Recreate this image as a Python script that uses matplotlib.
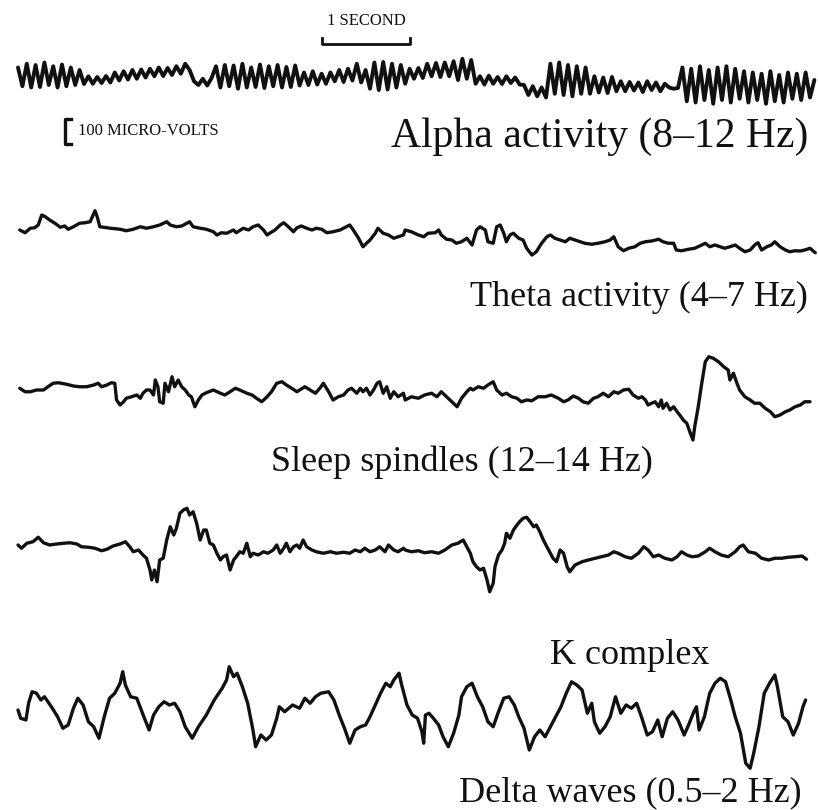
#!/usr/bin/env python3
"""
EEG rhythms figure: alpha, theta, sleep spindles, K complex and delta traces
"""

import matplotlib
matplotlib.use("Agg")
import matplotlib.pyplot as plt

plt.rcParams.update({
    "font.family": "Liberation Serif",
    "figure.facecolor": "white",
})

# ---- data (time in s, amplitude in microvolts) ----

# alpha is sampled every 0.05 s (peaks and troughs of the ~10 Hz rhythm)
alpha_step = 0.05
alpha_uv = [
    30, -45, 45, -50, 40, -48, 50, -40, 35, -50, 42, -45, 30, -40, 20,
    -36, -5, -35, -8, -32, -4, -30,
    10, -22, 15, -18, 20, -15, 22, -10, 25,
    -5, 30, -4, 28, 0, 35, 5,
    45, 20, -25,
    -40, -15, -42, -12,
    35, -50, 40, -45, 38, -55, 45, -50, 30, -48, 42, -52, 35, -45, 40, -50, 32, -48, 38, -42,
    10, -40, 15, -38, 5, -35, 10,
    -25, 20, -28, 25, -22, 45, -30, 20,
    -55, 50, -60, 52, -58, 45, -50, 40, -35,
    25, -15, 28, -12,
    45, -5, 48, -8, 50, -5, 55,
    -20, 65, -15, 60,
    -35, -5, -38, -3, -35, -8, -36, -5, -32, -10, -38,
    -40, -80, -45, -85, -50, -90,
    45, -75, 50, -80, 40, -85, 35, -75, 30,
    -75, -5, -70, -10, -72, -8, -65,
    -25, -65, -28, -62, -30, -68, -25, -60, -30, -65, -35,
    -50, -55, -52,
    30, -105, 25, -110, 35, -100, 20, -115, 30, -100, 35, -110, 25, -95,
    15, -110, 10, -100, 5, -115, 15, -105, 0, -110, 10, -95, 5, -100, 10, -90, -20,
]

theta = [
    (0.02, 0), (0.08, -11), (0.14, 7), (0.19, 9), (0.23, 20), (0.27, 60), (0.31, 53),
    (0.36, 40), (0.42, 27), (0.48, 11), (0.53, 16), (0.57, 3), (0.63, 13), (0.70, 27),
    (0.76, 29), (0.82, 33), (0.875, 77), (0.90, 53), (0.93, 13), (1.05, 7), (1.16, 3),
    (1.23, -3), (1.31, 3), (1.39, 13), (1.46, 7), (1.54, 13), (1.61, 20), (1.69, 33),
    (1.73, 20), (1.80, 13), (1.86, 16), (1.92, 27), (1.95, 33), (1.99, 13), (2.07, 7),
    (2.14, 3), (2.22, -7), (2.26, -20), (2.31, -11), (2.37, -13), (2.45, 0), (2.48, -11),
    (2.56, 7), (2.62, 0), (2.67, 13), (2.73, 20), (2.79, 0), (2.83, -20), (2.86, -13),
    (2.92, 0), (2.98, 20), (3.02, 29), (3.05, 20), (3.09, 7), (3.13, -7), (3.17, 9),
    (3.22, 16), (3.28, 7), (3.34, 0), (3.39, 7), (3.45, 3), (3.51, -11), (3.58, -7),
    (3.66, 0), (3.72, 11), (3.77, 20), (3.81, 0), (3.87, -33), (3.92, -67), (3.96, -53),
    (4.00, -40), (4.06, -13), (4.09, 7), (4.15, -13), (4.21, -20), (4.27, -33),
    (4.32, -27), (4.38, -20), (4.40, 0), (4.47, -7), (4.55, -20), (4.61, -27),
    (4.66, -13), (4.74, -11), (4.78, 0), (4.81, -20), (4.87, -37), (4.93, -40),
    (4.98, -53), (5.04, -47), (5.10, -33), (5.16, -60), (5.21, 0), (5.25, 13),
    (5.31, 0), (5.34, -47), (5.40, -53), (5.44, 13), (5.48, 20), (5.52, -13),
    (5.55, -47), (5.59, -20), (5.63, -13), (5.69, -33), (5.74, -40), (5.78, -73),
    (5.84, -100), (5.89, -87), (5.95, -53), (6.01, -27), (6.05, -20), (6.10, -33),
    (6.16, -40), (6.22, -47), (6.27, -33), (6.33, -40), (6.39, -47), (6.44, -53),
    (6.52, -57), (6.59, -53), (6.67, -47), (6.73, -40), (6.77, -27), (6.82, -67),
    (6.88, -83), (6.94, -73), (7.01, -67), (7.07, -53), (7.13, -47), (7.20, -44),
    (7.28, -37), (7.33, -47), (7.39, -53), (7.45, -53), (7.48, -80), (7.54, -83),
    (7.62, -77), (7.69, -73), (7.77, -60), (7.81, -53), (7.86, -67), (7.92, -60),
    (7.98, -67), (8.03, -73), (8.09, -67), (8.15, -60), (8.20, -73), (8.26, -87),
    (8.32, -80), (8.38, -57), (8.41, -51), (8.45, -80), (8.51, -67), (8.56, -60),
    (8.60, -47), (8.66, -67), (8.72, -80), (8.77, -87), (8.83, -83), (8.89, -84),
    (8.94, -80), (9.00, -73), (9.06, -91),
]

spindles = [
    (0.02, 7), (0.08, -7), (0.14, -7), (0.21, 0), (0.29, 0), (0.34, 13), (0.40, 27),
    (0.46, 29), (0.55, 23), (0.63, 16), (0.70, 13), (0.78, 13), (0.86, 20), (0.91, 27),
    (0.95, 13), (1.01, 20), (1.06, 29), (1.10, 27), (1.12, -40), (1.16, -60),
    (1.20, -47), (1.23, -33), (1.29, -27), (1.35, -20), (1.39, -33), (1.42, -13),
    (1.46, 0), (1.50, 0), (1.54, -20), (1.56, 40), (1.59, 13), (1.61, -47),
    (1.65, -53), (1.67, 27), (1.71, -7), (1.75, 53), (1.78, 13), (1.82, 40),
    (1.86, 13), (1.90, 0), (1.94, -20), (1.97, -27), (2.01, -67), (2.05, -40),
    (2.09, -20), (2.14, -11), (2.22, 0), (2.30, -13), (2.35, -20), (2.41, -7),
    (2.47, 7), (2.52, 0), (2.60, -13), (2.66, -20), (2.71, -33), (2.77, -47),
    (2.83, -27), (2.88, -7), (2.94, 27), (3.00, 33), (3.05, 20), (3.11, 7),
    (3.17, -7), (3.20, 0), (3.26, 13), (3.32, 0), (3.38, -13), (3.43, 7), (3.47, 27),
    (3.53, -7), (3.58, -40), (3.64, -27), (3.70, -20), (3.75, 0), (3.79, 7),
    (3.85, -13), (3.89, 7), (3.92, -7), (3.96, 7), (4.00, -20), (4.04, 0), (4.08, 27),
    (4.11, 33), (4.15, -13), (4.19, 13), (4.23, -33), (4.27, -7), (4.32, -27),
    (4.38, -13), (4.40, -40), (4.47, -27), (4.55, -33), (4.62, -20), (4.70, -13),
    (4.76, -27), (4.81, -7), (4.87, -27), (4.93, -47), (4.99, -67), (5.04, -33),
    (5.10, -7), (5.14, 7), (5.17, 0), (5.23, 13), (5.29, 7), (5.34, 20), (5.40, 33),
    (5.44, 0), (5.50, -20), (5.55, -13), (5.61, -27), (5.67, -33), (5.72, -47),
    (5.78, -40), (5.84, -43), (5.91, -27), (5.99, -27), (6.06, -20), (6.14, -33),
    (6.20, -47), (6.25, -40), (6.31, -24), (6.37, -33), (6.42, -47), (6.48, -53),
    (6.54, -33), (6.59, -27), (6.65, -13), (6.71, -27), (6.77, -7), (6.82, -13),
    (6.88, 0), (6.94, 3), (6.99, -20), (7.05, -33), (7.09, -27), (7.13, -40),
    (7.16, -60), (7.20, -53), (7.24, -47), (7.28, -67), (7.31, -40), (7.33, -73),
    (7.37, -53), (7.41, -80), (7.45, -67), (7.49, -87), (7.52, -100), (7.56, -120),
    (7.60, -133), (7.64, -173), (7.67, -200), (7.69, -147), (7.73, -67), (7.77, 27),
    (7.81, 113), (7.85, 133), (7.90, 127), (7.96, 113), (8.02, 93), (8.07, 80),
    (8.09, 40), (8.13, 67), (8.17, 27), (8.20, 0), (8.26, -27), (8.32, -40),
    (8.37, -53), (8.43, -53), (8.49, -73), (8.55, -87), (8.60, -107), (8.66, -100),
    (8.72, -87), (8.77, -80), (8.83, -67), (8.89, -60), (8.94, -47), (9.00, -47),
]

k_complex = [
    (0.00, 20), (0.04, 7), (0.10, 27), (0.17, 33), (0.23, 51), (0.29, 29), (0.36, 20),
    (0.44, 24), (0.52, 27), (0.59, 29), (0.67, 24), (0.72, 13), (0.80, 11), (0.875, 7),
    (0.95, -3), (1.01, 3), (1.08, 16), (1.16, 24), (1.22, 33), (1.27, 13), (1.31, -7),
    (1.37, 0), (1.42, -20), (1.46, -33), (1.50, -80), (1.52, -120), (1.55, -80),
    (1.58, -127), (1.61, -40), (1.65, -33), (1.69, 40), (1.73, 93), (1.77, 60),
    (1.80, 87), (1.84, 147), (1.88, 160), (1.92, 167), (1.95, 140), (1.99, 153),
    (2.03, 107), (2.07, 40), (2.11, 80), (2.14, 80), (2.18, 27), (2.22, 20),
    (2.26, -13), (2.30, -40), (2.33, -27), (2.37, -20), (2.41, -80), (2.45, -40),
    (2.48, -27), (2.52, -7), (2.56, -13), (2.60, 27), (2.64, -27), (2.67, -13),
    (2.73, -20), (2.79, -7), (2.84, -13), (2.90, 0), (2.94, 20), (2.98, -13),
    (3.02, 7), (3.05, 27), (3.09, -7), (3.13, 13), (3.17, 20), (3.20, 7), (3.24, 40),
    (3.28, 13), (3.34, 0), (3.39, -7), (3.47, -13), (3.55, -7), (3.62, -13),
    (3.70, -9), (3.77, -13), (3.83, 0), (3.89, -7), (3.94, 7), (4.00, -7), (4.06, 0),
    (4.11, 13), (4.17, -7), (4.21, 20), (4.27, 0), (4.32, -7), (4.38, 7), (4.40, 0),
    (4.47, -7), (4.55, -3), (4.62, -11), (4.70, -7), (4.78, -13), (4.85, 0),
    (4.93, 20), (5.00, 27), (5.06, 40), (5.10, 13), (5.14, -13), (5.17, -47),
    (5.21, -67), (5.25, -80), (5.29, -73), (5.33, -120), (5.36, -167), (5.40, -133),
    (5.42, -67), (5.46, -20), (5.50, 0), (5.53, 27), (5.55, 67), (5.59, 47),
    (5.63, 80), (5.67, 100), (5.70, 113), (5.74, 127), (5.78, 131), (5.82, 113),
    (5.86, 93), (5.89, 100), (5.93, 73), (5.97, 40), (6.01, 13), (6.05, -13),
    (6.08, -33), (6.12, -47), (6.16, 0), (6.20, -13), (6.24, -67), (6.27, -87),
    (6.33, -60), (6.41, -47), (6.48, -40), (6.56, -33), (6.63, -27), (6.71, -20),
    (6.77, -7), (6.82, -13), (6.90, -27), (6.97, -33), (7.05, -13), (7.11, 13),
    (7.16, 0), (7.22, -27), (7.28, -20), (7.35, -33), (7.43, -40), (7.49, -27),
    (7.54, -7), (7.60, -20), (7.66, -27), (7.73, -24), (7.81, -7), (7.86, 7),
    (7.92, -7), (7.99, -20), (8.07, -27), (8.15, -7), (8.20, 13), (8.24, 20),
    (8.30, -7), (8.38, -13), (8.45, -33), (8.53, -40), (8.60, -33), (8.68, -33),
    (8.75, -29), (8.83, -27), (8.91, -24), (8.96, -37),
]

delta = [
    (0.00, 0), (0.03, -33), (0.09, -40), (0.12, 27), (0.16, 73), (0.21, 67), (0.26, 40),
    (0.30, 53), (0.34, 33), (0.39, 7), (0.45, -27), (0.51, -73), (0.57, -60), (0.63, 7),
    (0.68, 47), (0.74, 20), (0.80, -47), (0.86, -67), (0.92, -113), (0.98, -27),
    (1.04, 47), (1.10, 67), (1.16, 107), (1.19, 153), (1.22, 100), (1.28, 53),
    (1.35, 47), (1.43, -27), (1.49, -80), (1.54, -20), (1.60, 13), (1.66, 33),
    (1.72, 20), (1.78, 27), (1.84, -7), (1.90, -67), (1.98, -113), (2.05, -67),
    (2.14, -20), (2.23, 40), (2.32, 87), (2.37, 120), (2.40, 173), (2.45, 133),
    (2.49, 147), (2.55, 93), (2.61, 27), (2.67, -80), (2.70, -147), (2.76, -100),
    (2.82, -120), (2.88, -100), (2.94, -33), (2.97, 13), (3.03, -7), (3.12, 20),
    (3.20, 7), (3.26, 47), (3.32, 27), (3.38, 53), (3.44, 67), (3.53, 73), (3.59, 40),
    (3.65, -20), (3.71, -73), (3.77, -133), (3.83, -80), (3.89, -67), (3.95, -60),
    (4.00, -27), (4.06, 20), (4.12, 67), (4.18, 107), (4.23, 93), (4.27, 120),
    (4.33, 147), (4.36, 100), (4.42, 20), (4.48, -20), (4.54, -33), (4.59, -87),
    (4.61, -133), (4.63, -20), (4.67, -13), (4.72, -33), (4.78, -60), (4.83, -107),
    (4.89, -147), (4.95, -93), (5.01, -20), (5.04, 53), (5.10, 93), (5.16, 107),
    (5.22, 53), (5.28, 13), (5.34, -47), (5.40, -67), (5.46, -7), (5.52, 47),
    (5.58, 53), (5.64, 20), (5.69, -27), (5.75, -73), (5.81, -160), (5.87, -107),
    (5.93, -80), (5.99, -107), (6.05, -67), (6.11, -27), (6.17, 13), (6.23, 67),
    (6.29, 113), (6.35, 100), (6.41, 80), (6.47, -13), (6.52, 27), (6.55, -47),
    (6.61, -93), (6.67, -67), (6.73, -27), (6.79, 53), (6.85, -13), (6.91, 20),
    (6.97, 7), (7.03, 27), (7.09, -33), (7.15, -100), (7.21, -87), (7.27, -40),
    (7.32, -107), (7.38, -33), (7.44, -7), (7.50, -40), (7.57, -100), (7.62, -60),
    (7.68, -7), (7.71, 13), (7.74, -80), (7.80, -27), (7.86, 67), (7.92, 107),
    (7.98, 127), (8.04, 113), (8.10, 40), (8.15, -27), (8.21, -93), (8.27, -213),
    (8.32, -233), (8.36, -173), (8.42, -67), (8.48, 67), (8.54, 107), (8.60, 140),
    (8.63, 93), (8.69, -27), (8.75, -47), (8.81, -100), (8.87, -53), (8.92, 13),
    (8.95, 40),
]

labels = ["Alpha activity (8\u201312 Hz)", "Theta activity (4\u20137 Hz)",
          "Sleep spindles (12\u201314 Hz)", "K complex", "Delta waves (0.5\u20132 Hz)"]
scale_seconds = 1
scale_uv = 100

# ---- layout (pixel positions of the original page) ----
X0 = 18          # left end of the traces
PX_PER_S = 88    # 1 second calibration bar
UV_PER_PX = 4    # 100 microvolt calibration bracket = 25 px
W, H = 818, 810

def px_x(x):
    return (x - X0) / PX_PER_S

def px_y(y):
    return -y * UV_PER_PX

baselines = [75, 230, 390, 550, 710]
label_pos = [(808, 137, "right"), (808, 297, "right"), (462, 462, "center"),
             (630, 655, "center"), (630, 793, "center")]
label_size = [30, 26, 26, 26, 26]

ink = "#111111"

fig = plt.figure(figsize=(W / 100, H / 100), dpi=100)
ax = fig.add_axes([0, 0, 1, 1])
ax.set_xlim(px_x(0), px_x(W))
ax.set_ylim(px_y(H), px_y(0))
ax.axis("off")

# traces
alpha_t = [i * alpha_step for i in range(len(alpha_uv))]
traces = [list(zip(alpha_t, alpha_uv)), theta, spindles, k_complex, delta]
widths = [2.8, 2.4, 2.4, 2.4, 2.4]
for pts, base, lw in zip(traces, baselines, widths):
    t, v = zip(*pts)
    ax.plot(t, [px_y(base) + a for a in v], color=ink, lw=lw,
            solid_joinstyle="round", solid_capstyle="round")

# labels
for text, (x, y, ha), fs in zip(labels, label_pos, label_size):
    ax.text(px_x(x), px_y(y), text, ha=ha, va="center", fontsize=fs, color=ink)

# 1 second bar
t0 = px_x(322)
yb = px_y(44)
tick = 6 * UV_PER_PX
ax.plot([t0, t0, t0 + scale_seconds, t0 + scale_seconds],
        [yb + tick, yb, yb, yb + tick], color=ink, lw=2)
ax.text(t0 + scale_seconds / 2, px_y(21), "1 SECOND", ha="center", va="center",
        fontsize=12, color=ink)

# 100 microvolt bracket
xb = px_x(65)
ytop = px_y(119)
ax.plot([xb + 6 / PX_PER_S, xb, xb, xb + 6 / PX_PER_S],
        [ytop, ytop, ytop - scale_uv, ytop - scale_uv], color=ink, lw=2.4)
ax.text(px_x(78), px_y(131), "100 MICRO-VOLTS", ha="left", va="center",
        fontsize=12, color=ink)

fig.savefig("out.png", dpi=100)
